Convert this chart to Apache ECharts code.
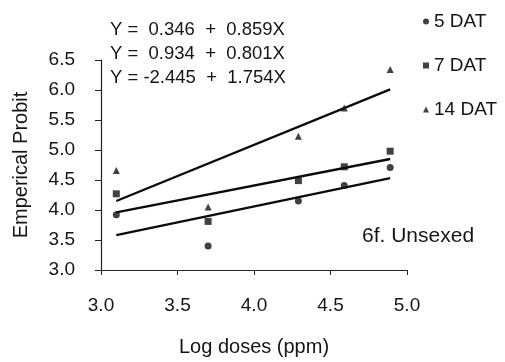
<!DOCTYPE html>
<html>
    <head>
        <meta charset=utf-8>
        <style>body{margin:0;background:#fff}</style>
    </head>
    <body>
        <div id="chart" style="width:505px;height:362px"></div>
        <script src="https://cdn.jsdelivr.net/npm/echarts@6/dist/echarts.min.js"></script>
        <script type="text/javascript">

            var myChart = echarts.init(document.querySelector('#chart'));

            // log dose values (x) and empirical probits per day
            let logDose = [3.1, 3.7, 4.29, 4.59, 4.89]
            let dat5  = [3.92, 3.40, 4.15, 4.41, 4.71]
            let dat7  = [4.27, 3.81, 4.49, 4.72, 4.98]
            let dat14 = [4.66, 4.05, 5.23, 5.70, 6.34]

            // regression line ends as drawn
            let fitX   = [3.1, 4.89]
            let fit5   = [3.58, 4.53]
            let fit7   = [3.96, 4.85]
            let fit14  = [4.15, 6.01]

            let names = ['5 DAT', '7 DAT', '14 DAT']
            let equations = [
                'Y =  0.346  +  0.859X',
                'Y =  0.934  +  0.801X',
                'Y = -2.445  +  1.754X'
            ]

            const font = 'Liberation Sans, Arial, sans-serif'
            const ink = '#151515'

            function pts(ys) { return ys.map((y, i) => [logDose[i], y]) }
            function line(ys) { return ys.map((y, i) => [fitX[i], y]) }

            let option = {
                backgroundColor: '#fff',
                animation: false,
                textStyle: { fontFamily: font, color: ink },
                grid: { left: 101, top: 60, width: 306, height: 214 },
                legend: {
                    orient: 'vertical',
                    left: 423,
                    top: 12,
                    padding: 0,
                    itemWidth: 6,
                    itemHeight: 6,
                    itemGap: 25,
                    selectedMode: false,
                    textStyle: { fontSize: 19, color: ink, fontFamily: font },
                    data: [
                        { name: names[0], icon: 'circle' },
                        { name: names[1], icon: 'rect' },
                        { name: names[2], icon: 'triangle' }
                    ]
                },
                xAxis: {
                    type: 'value',
                    min: 3, max: 5, interval: 0.5,
                    name: 'Log doses (ppm)',
                    nameLocation: 'middle',
                    nameGap: 67,
                    nameTextStyle: { fontSize: 20, color: ink },
                    axisLine: { lineStyle: { color: '#222', width: 1.2 } },
                    axisTick: { length: 5, lineStyle: { color: '#222' } },
                    axisLabel: { margin: 26, fontSize: 19, color: ink, formatter: v => v.toFixed(1) },
                    splitLine: { show: false }
                },
                yAxis: {
                    type: 'value',
                    min: 3, max: 6.5, interval: 0.5,
                    name: 'Emperical Probit',
                    nameLocation: 'middle',
                    nameGap: 70,
                    nameTextStyle: { fontSize: 20, color: ink },
                    axisLine: { show: true, lineStyle: { color: '#222', width: 1.2 } },
                    axisTick: { show: true, length: 6, lineStyle: { color: '#222' } },
                    axisLabel: { margin: 26, fontSize: 19, color: ink, formatter: v => v.toFixed(1) },
                    splitLine: { show: false }
                },
                graphic: equations.map((t, i) => ({
                    type: 'text',
                    left: 110,
                    top: 20 + i * 24.2,
                    style: { text: t, font: '18.5px ' + font, fill: ink }
                })).concat([{
                    type: 'text',
                    left: 362,
                    top: 226,
                    style: { text: '6f. Unsexed', font: '21px ' + font, fill: ink }
                }]),
                series: [
                    { name: 'fit5', type: 'line', data: line(fit5), symbol: 'none', lineStyle: { color: '#0a0a0a', width: 2.3 }, z: 2 },
                    { name: 'fit7', type: 'line', data: line(fit7), symbol: 'none', lineStyle: { color: '#0a0a0a', width: 2.3 }, z: 2 },
                    { name: 'fit14', type: 'line', data: line(fit14), symbol: 'none', lineStyle: { color: '#0a0a0a', width: 2.3 }, z: 2 },
                    { name: names[0], type: 'scatter', data: pts(dat5), symbol: 'circle', symbolSize: 7, itemStyle: { color: '#111' }, z: 3 },
                    { name: names[1], type: 'scatter', data: pts(dat7), symbol: 'rect', symbolSize: 7, itemStyle: { color: '#111' }, z: 3 },
                    { name: names[2], type: 'scatter', data: pts(dat14), symbol: 'triangle', symbolSize: 7, itemStyle: { color: '#111' }, z: 3 }
                ]
            }
            myChart.setOption(option);
        </script>
    </body>
</html>
